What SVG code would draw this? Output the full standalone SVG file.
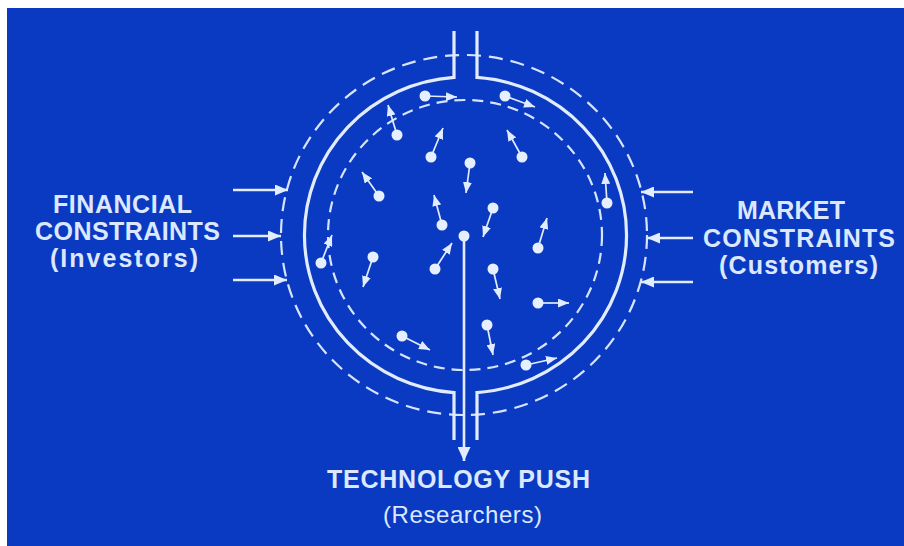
<svg xmlns="http://www.w3.org/2000/svg" width="904" height="546" viewBox="0 0 904 546">
  <style>
    .lbl { font-family: "Liberation Sans", Arial, sans-serif; font-weight: bold; font-size: 25px; fill: #dce8ff; text-anchor: middle; }
    .sub { font-family: "Liberation Sans", Arial, sans-serif; font-weight: normal; font-size: 24px; fill: #dce8ff; text-anchor: middle; }
    .solid { fill: none; stroke: #e2ecff; stroke-width: 3.2; }
    .dash-out { fill: none; stroke: #d6e4ff; stroke-width: 2.2; stroke-dasharray: 14 8; }
    .dash-in { fill: none; stroke: #d6e4ff; stroke-width: 2.2; stroke-dasharray: 11 7; }
    .dot { fill: #e6efff; }
    .mv { stroke: #e2ecff; stroke-width: 1.7; fill: none; marker-end: url(#sm); }
    .side { stroke: #e2ecff; stroke-width: 2.6; fill: none; marker-end: url(#lg); }
  </style>
  <defs>
    <marker id="sm" markerUnits="userSpaceOnUse" markerWidth="11" markerHeight="9" refX="11" refY="4.5" orient="auto">
      <path d="M0,0 L11,4.5 L0,9 z" fill="#e2ecff"/>
    </marker>
    <marker id="lg" markerUnits="userSpaceOnUse" markerWidth="13" markerHeight="11" refX="13" refY="5.5" orient="auto">
      <path d="M0,0 L13,5.5 L0,11 z" fill="#e2ecff"/>
    </marker>
    <marker id="ctr" markerUnits="userSpaceOnUse" markerWidth="14" markerHeight="13" refX="14" refY="6.5" orient="auto">
      <path d="M0,0 L14,6.5 L0,13 z" fill="#e2ecff"/>
    </marker>
  </defs>

  <rect x="0" y="0" width="904" height="546" fill="#ffffff"/>
  <rect x="7" y="8" width="897" height="538" fill="#0b3ac2"/>

  <g id="system">
    <ellipse class="dash-out" cx="464" cy="235" rx="183" ry="180"/>
    <path class="solid" d="M454,31 L454,77.4 A161,158 0 0,0 454,392.6 L454,440"/>
    <path class="solid" d="M477,31 L477,77.4 A161,158 0 0,1 477,392.6 L477,440"/>
    <ellipse class="dash-in" cx="465" cy="235" rx="137" ry="135"/>
  </g>

  <g id="particles">
    <g id="p1"><line class="mv" x1="425" y1="96" x2="457" y2="97"/><circle class="dot" cx="425" cy="96" r="5.5"/></g>
    <g id="p2"><line class="mv" x1="505" y1="96" x2="535" y2="107"/><circle class="dot" cx="505" cy="96" r="5.5"/></g>
    <g id="p3"><line class="mv" x1="397" y1="135" x2="388" y2="105"/><circle class="dot" cx="397" cy="135" r="5.5"/></g>
    <g id="p4"><line class="mv" x1="431" y1="157" x2="443" y2="128"/><circle class="dot" cx="431" cy="157" r="5.5"/></g>
    <g id="p5"><line class="mv" x1="522" y1="157" x2="507" y2="130"/><circle class="dot" cx="522" cy="157" r="5.5"/></g>
    <g id="p6"><line class="mv" x1="470" y1="163" x2="466" y2="193"/><circle class="dot" cx="470" cy="163" r="5.5"/></g>
    <g id="p7"><line class="mv" x1="379" y1="196" x2="362" y2="172"/><circle class="dot" cx="379" cy="196" r="5.5"/></g>
    <g id="p8"><line class="mv" x1="607" y1="203" x2="605" y2="173"/><circle class="dot" cx="607" cy="203" r="5.5"/></g>
    <g id="p9"><line class="mv" x1="442" y1="225" x2="434" y2="195"/><circle class="dot" cx="442" cy="225" r="5.5"/></g>
    <g id="p10"><line class="mv" x1="493" y1="208" x2="483" y2="237"/><circle class="dot" cx="493" cy="208" r="5.5"/></g>
    <g id="p12"><line class="mv" x1="538" y1="248" x2="547" y2="218"/><circle class="dot" cx="538" cy="248" r="5.5"/></g>
    <g id="p13"><line class="mv" x1="321" y1="263" x2="332" y2="235"/><circle class="dot" cx="321" cy="263" r="5.5"/></g>
    <g id="p14"><line class="mv" x1="373" y1="257" x2="363" y2="287"/><circle class="dot" cx="373" cy="257" r="5.5"/></g>
    <g id="p15"><line class="mv" x1="435" y1="269" x2="452" y2="243"/><circle class="dot" cx="435" cy="269" r="5.5"/></g>
    <g id="p16"><line class="mv" x1="493" y1="269" x2="500" y2="299"/><circle class="dot" cx="493" cy="269" r="5.5"/></g>
    <g id="p17"><line class="mv" x1="538" y1="303" x2="569" y2="303"/><circle class="dot" cx="538" cy="303" r="5.5"/></g>
    <g id="p18"><line class="mv" x1="487" y1="325" x2="493" y2="355"/><circle class="dot" cx="487" cy="325" r="5.5"/></g>
    <g id="p19"><line class="mv" x1="402" y1="336" x2="430" y2="350"/><circle class="dot" cx="402" cy="336" r="5.5"/></g>
    <g id="p20"><line class="mv" x1="526" y1="365" x2="557" y2="358"/><circle class="dot" cx="526" cy="365" r="5.5"/></g>
    <g id="p11"><circle class="dot" cx="464" cy="236" r="5.5"/></g>
  </g>

  <g id="connectors">
    <line class="side" x1="233" y1="190" x2="288" y2="190"/>
    <line class="side" x1="233" y1="236" x2="281" y2="236"/>
    <line class="side" x1="233" y1="280" x2="287" y2="280"/>
    <line class="side" x1="693" y1="192" x2="641" y2="192"/>
    <line class="side" x1="693" y1="238" x2="647" y2="238"/>
    <line class="side" x1="693" y1="282" x2="641" y2="282"/>
    <line x1="464" y1="236" x2="464" y2="461" stroke="#e2ecff" stroke-width="2.6" marker-end="url(#ctr)"/>
  </g>

  <g id="financial">
    <text class="lbl" x="122.5" y="213" textLength="139">FINANCIAL</text>
    <text class="lbl" x="127.5" y="240" textLength="185">CONSTRAINTS</text>
    <text class="lbl" x="124" y="267" textLength="148">(Investors)</text>
  </g>

  <g id="market">
    <text class="lbl" x="791" y="219" textLength="108">MARKET</text>
    <text class="lbl" x="799" y="247" textLength="192">CONSTRAINTS</text>
    <text class="lbl" x="798.5" y="274" textLength="159">(Customers)</text>
  </g>

  <g id="technology">
    <text class="lbl" x="458.5" y="488" textLength="263">TECHNOLOGY PUSH</text>
    <text class="sub" x="462.5" y="523" textLength="159">(Researchers)</text>
  </g>
</svg>
